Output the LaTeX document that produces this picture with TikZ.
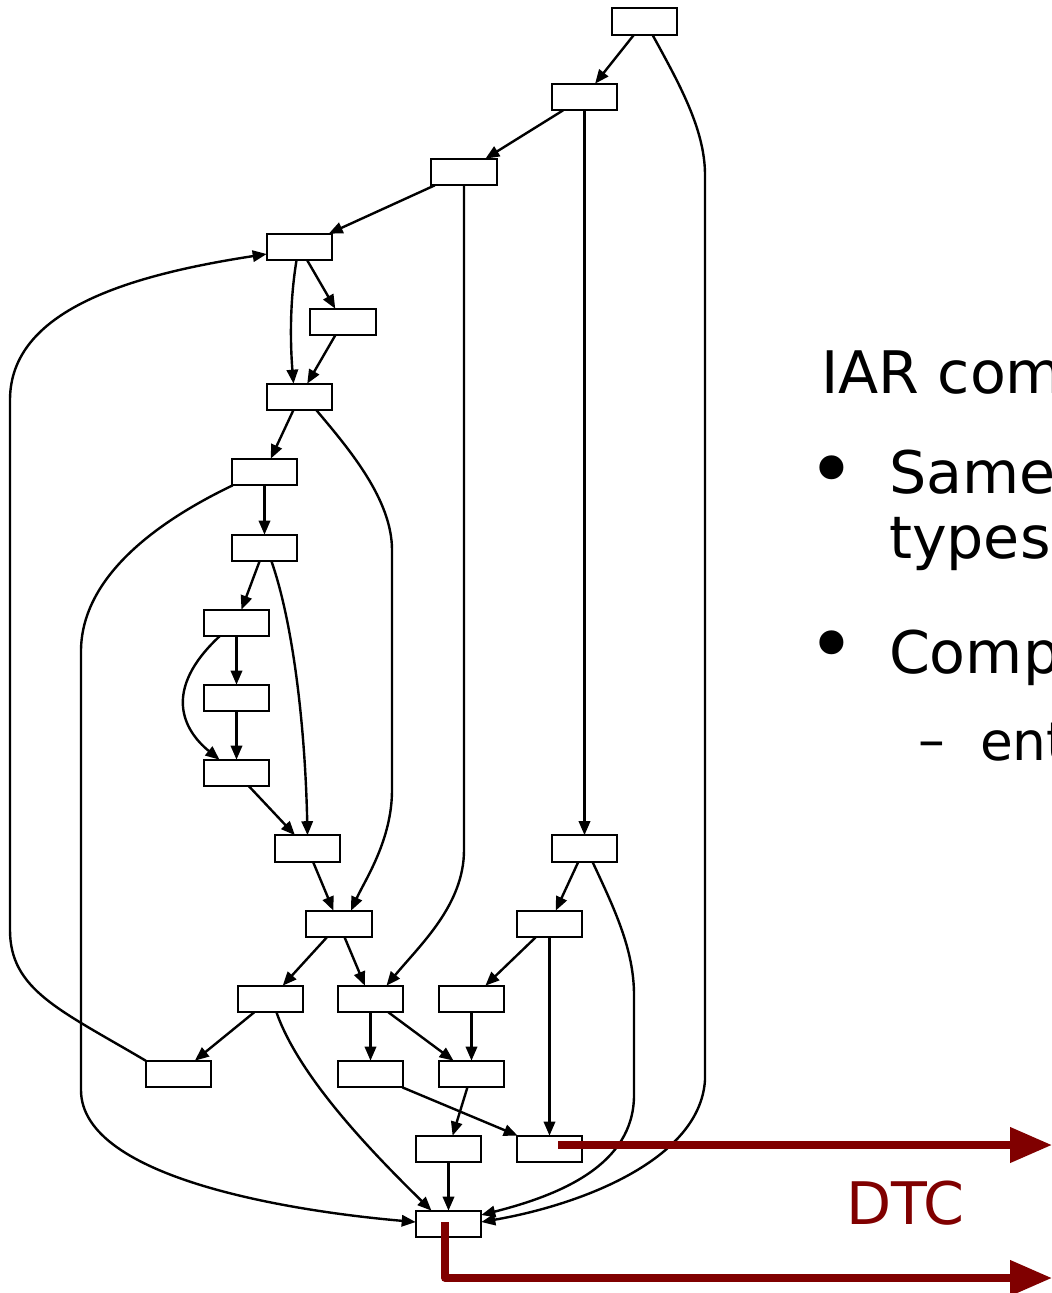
\documentclass[tikz,border=0pt]{standalone}
\usepackage{fontspec}
\setmainfont{DejaVu Sans}
\usetikzlibrary{arrows.meta,calc}
\definecolor{dtcred}{RGB}{128,0,0}
\begin{document}
\begin{tikzpicture}[x=0.75pt,y=-0.75pt,
  box/.style={draw,line width=1.35pt,minimum width=49.2pt,minimum height=20pt,inner sep=0pt,outer sep=0pt},
  edge/.style={line width=1.8pt,-{Triangle[length=10.5pt,width=8.5pt]}},
  redarrow/.style={draw=dtcred,line width=5.6pt,line join=round,-{Triangle[length=31.5pt,width=25.5pt]}},
  txt/.style={anchor=base west,inner sep=0pt,outer sep=0pt},
  big/.style={font=\fontsize{44}{44}\selectfont},
  mid/.style={font=\fontsize{44}{44}\selectfont},
  small/.style={font=\fontsize{40}{40}\selectfont}]
\useasboundingbox (0,0) rectangle (1052,1293);
\clip (0,0) rectangle (1052,1293);
\fill[white] (0,0) rectangle (1052,1293);

% nodes
\node[box] (n1)  at (644.5,21.5) {};
\node[box] (n2)  at (584.5,97) {};
\node[box] (n3)  at (464,172) {};
\node[box] (n4)  at (299.5,247) {};
\node[box] (n5)  at (343,322) {};
\node[box] (n6)  at (299.5,397) {};
\node[box] (n7)  at (264.5,472) {};
\node[box] (n8)  at (264.5,548) {};
\node[box] (n9)  at (236.5,623) {};
\node[box] (n10) at (236.5,698) {};
\node[box] (n11) at (236.5,773) {};
\node[box] (n12) at (307.5,848.5) {};
\node[box] (n13) at (584.5,848.5) {};
\node[box] (n14) at (339,924) {};
\node[box] (n15) at (549.5,924) {};
\node[box] (n16) at (270.5,999) {};
\node[box] (n17) at (370.5,999) {};
\node[box] (n18) at (471.5,999) {};
\node[box] (n19) at (178.5,1074) {};
\node[box] (n20) at (370.5,1074) {};
\node[box] (n21) at (471.5,1074) {};
\node[box] (n22) at (448.5,1149) {};
\node[box] (n23) at (549.5,1149) {};
\node[box] (n24) at (448.5,1224) {};

% straight edges
\draw[edge] (n1) -- (n2);
\draw[edge] (n2) -- (n3);
\draw[edge] (n2) -- (n13);
\draw[edge] (n3) -- (n4);
\draw[edge] (n4) -- (n5);
\draw[edge] (n5) -- (n6);
\draw[edge] (n6) -- (n7);
\draw[edge] (n7) -- (n8);
\draw[edge] (n8) -- (n9);
\draw[edge] (n9) -- (n10);
\draw[edge] (n10) -- (n11);
\draw[edge] (n11) -- (n12);
\draw[edge] (n12) -- (n14);
\draw[edge] (n13) -- (n15);
\draw[edge] (n14) -- (n16);
\draw[edge] (n14) -- (n17);
\draw[edge] (n15) -- (n18);
\draw[edge] (n15) -- (n23);
\draw[edge] (n16) -- (n19);
\draw[edge] (n17) -- (n20);
\draw[edge] (n17) -- (n21);
\draw[edge] (n18) -- (n21);
\draw[edge] (n20) -- (n23);
\draw[edge] (n21) -- (n22);
\draw[edge] (n22) -- (n24);

% curved edges
\draw[edge] ($(n1.south)+(8,0)$) .. controls (680,85) and (705,130) .. (705,175)
  -- (705,1080) .. controls (700,1160) and (580,1205) .. ($(n24.east)+(0,-2)$);
\draw[edge] ($(n13.south)+(8,0)$) .. controls (615,910) and (634,950) .. (634,995)
  -- (634,1095) .. controls (634,1165) and (560,1195) .. ($(n24.east)+(0,-9)$);
\draw[edge] (n3.south) -- (464,850) .. controls (464,905) and (420,945) .. ($(n17.north)+(16,0)$);
\draw[edge] ($(n6.south)+(17,0)$) .. controls (350,450) and (392,500) .. (392,550)
  -- (392,790) .. controls (392,840) and (365,880) .. ($(n14.north)+(12,0)$);
\draw[edge] ($(n7.south west)+(1,0)$) .. controls (150,525) and (82,580) .. (81,650)
  -- (81,1090) .. controls (81,1180) and (300,1212) .. ($(n24.west)+(0,-2)$);
\draw[edge] ($(n8.south)+(7,0)$) .. controls (292,620) and (305,720) .. (n12.north);
\draw[edge] ($(n9.south)+(-17,0)$) .. controls (162,690) and (183,730) .. ($(n11.north)+(-17,0)$);
\draw[edge] ($(n4.south)+(-3,0)$) .. controls (290,300) and (290,340) .. ($(n6.north)+(-6,0)$);
\draw[edge] ($(n16.south)+(6,0)$) .. controls (300,1080) and (380,1160) .. ($(n24.north)+(-17,0)$);
\draw[edge] (n19.north west) .. controls (60,1010) and (10,990) .. (10,930)
  -- (10,400) .. controls (10,310) and (130,275) .. ($(n4.west)+(0,7)$);

% red arrows
\coordinate (e1) at (1052,1145);
\coordinate (e2) at (1052,1278);
\draw[redarrow] ($(n23.center)+(8.5,-4)$) -- (e1);
\draw[redarrow] ($(n24.center)+(-3.5,-2)$) |- (e2);
\node[txt,font=\fontsize{44}{44}\selectfont,text=dtcred] (dtc) at (846,1224) {DTC};

% text
\node[txt,big] (title) at (821,393) {IAR com};
\node[anchor=center,inner sep=0pt,font=\fontsize{62}{62}\selectfont] (bul1) at (832,477) {•};
\node[txt,mid] (same) at (889,493) {Same};
\node[txt,mid] (types) at (889,558) {types};
\node[anchor=center,inner sep=0pt,font=\fontsize{62}{62}\selectfont] (bul2) at (832,652) {•};
\node[txt,mid] (comp) at (889,673) {Comp};
\node[txt,small] (dash) at (918,758) {–};
\node[txt,small] (ent) at (980,760) {ent};
\end{tikzpicture}
\end{document}
